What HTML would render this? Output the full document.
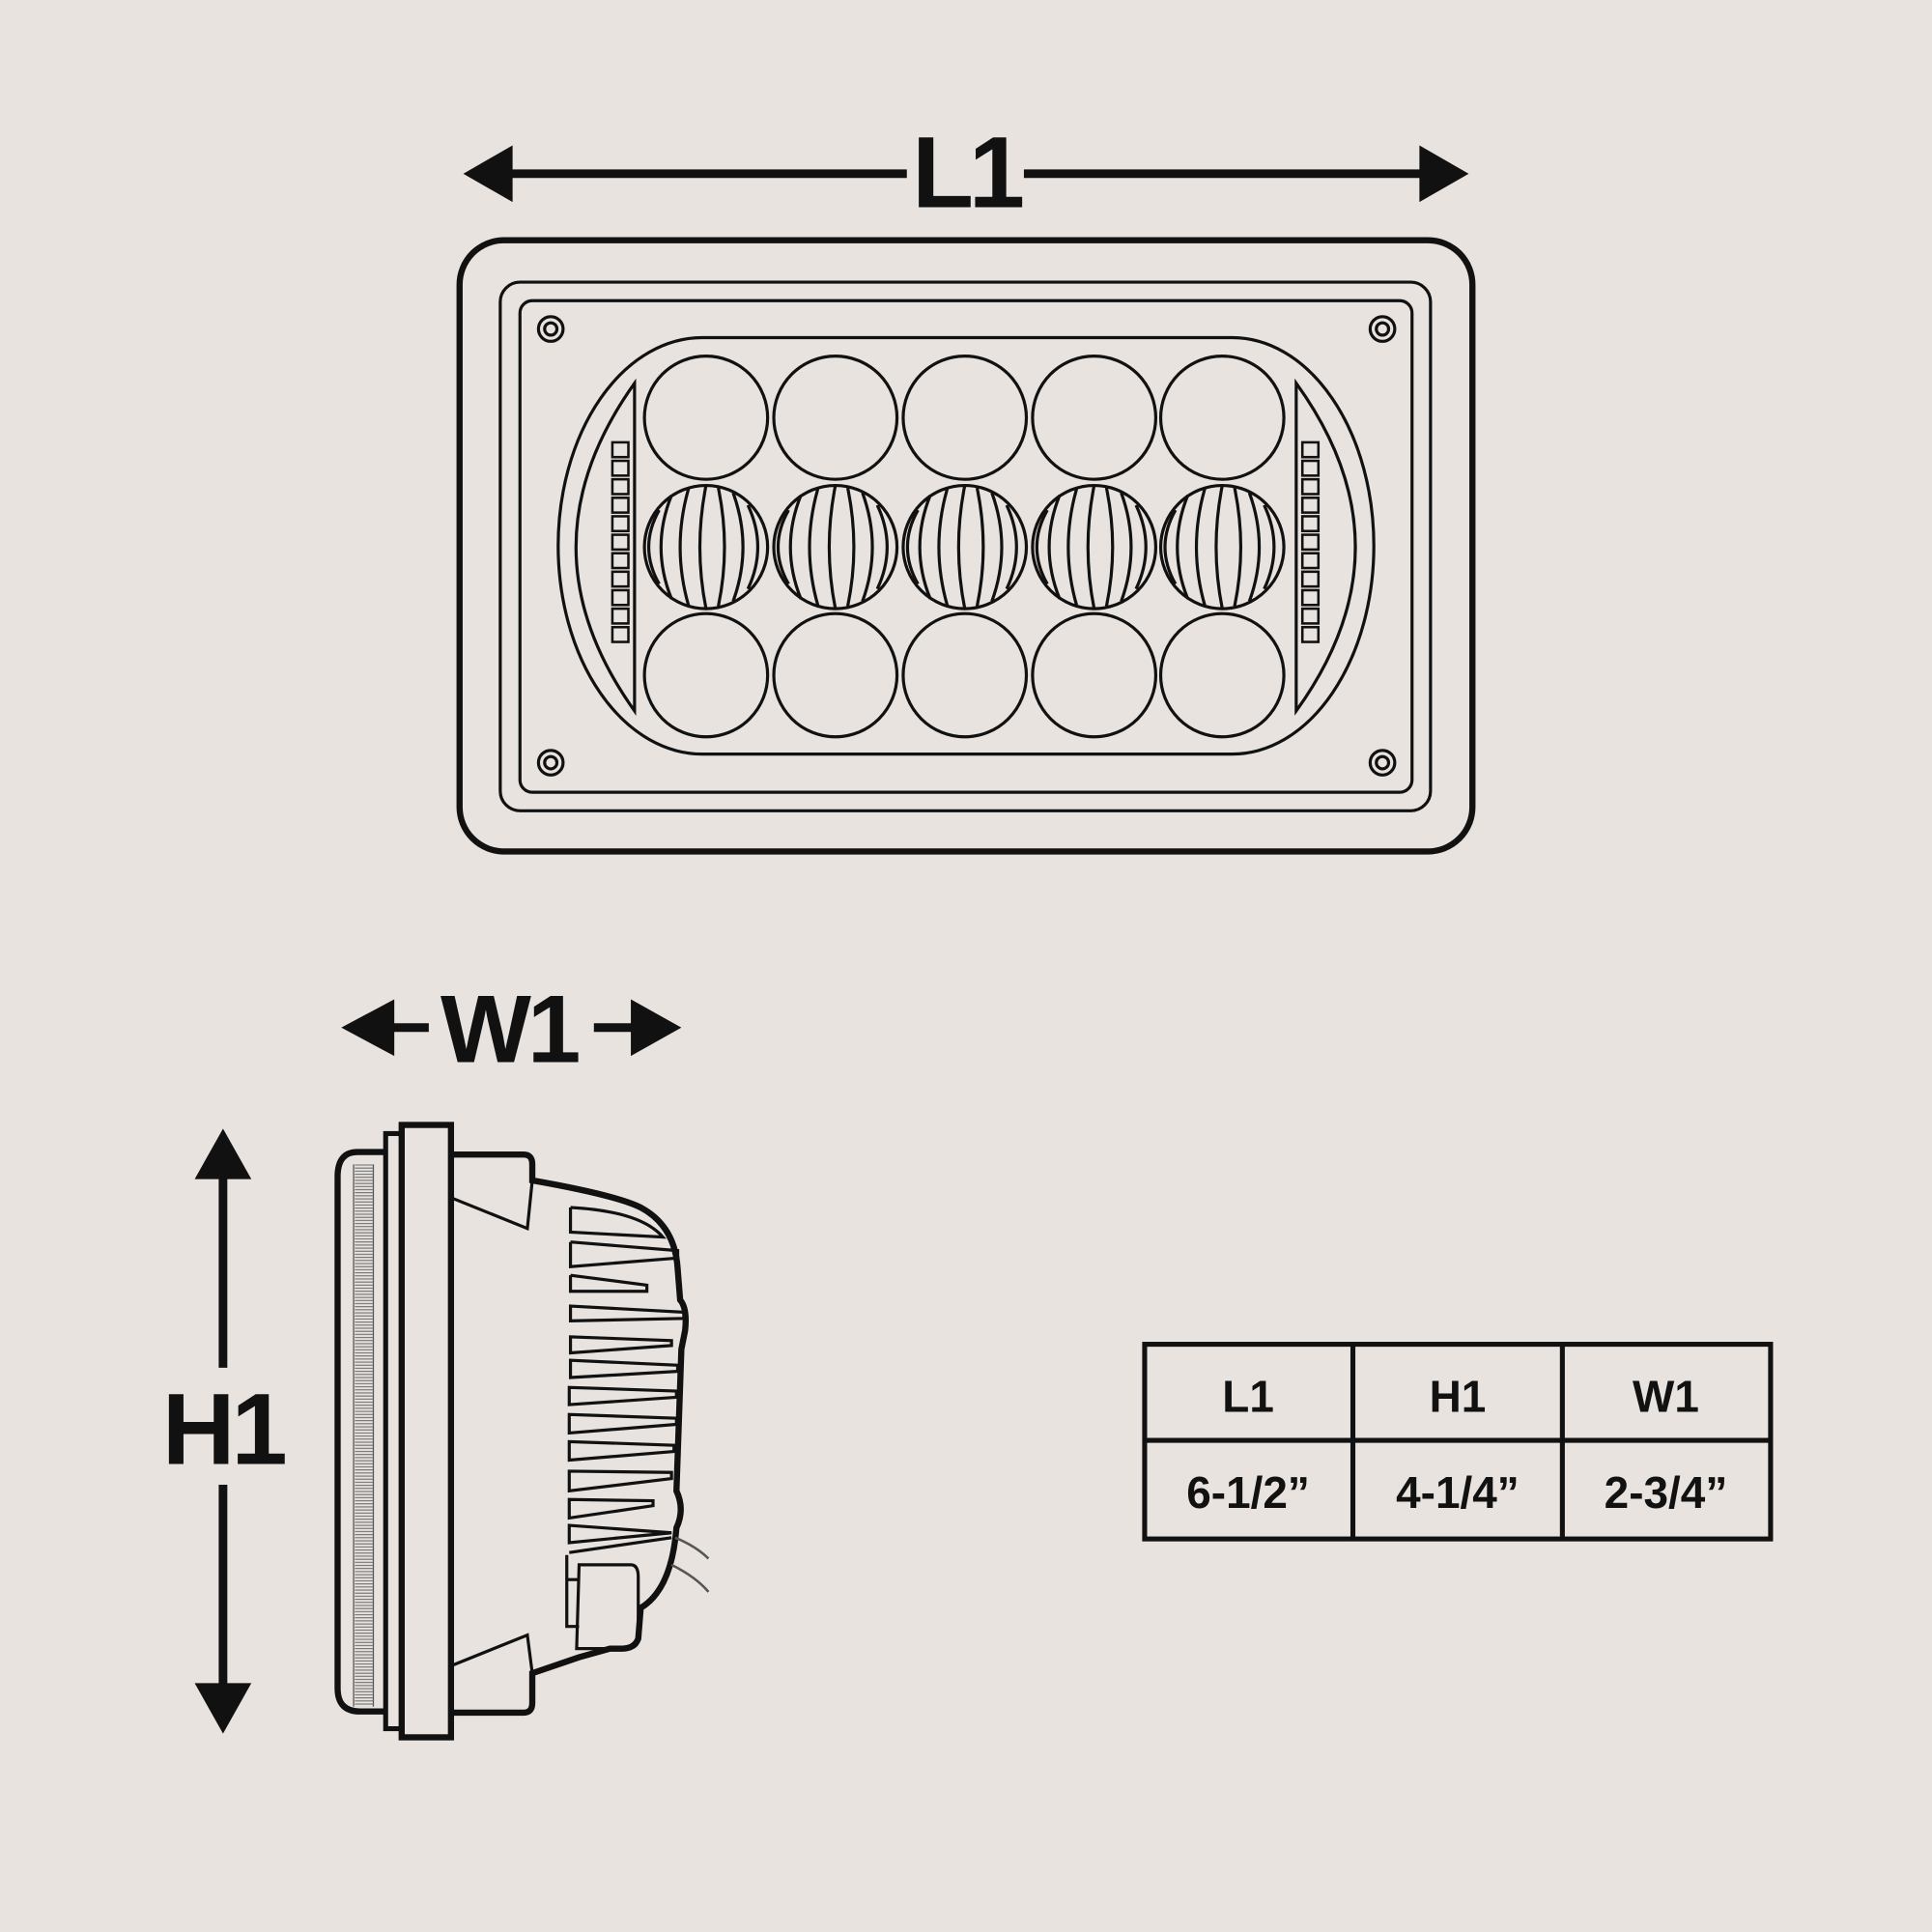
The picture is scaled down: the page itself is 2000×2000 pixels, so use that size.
<!DOCTYPE html>
<html><head><meta charset="utf-8"><style>
html,body{margin:0;padding:0;background:#e8e3df}
svg{display:block}
text{font-family:"Liberation Sans",sans-serif;font-weight:bold;fill:#111}
</style></head><body>
<svg width="2000" height="2000" viewBox="0 0 1568 1568" xmlns="http://www.w3.org/2000/svg">
<rect width="1568" height="1568" fill="#e8e3df"/>
<g stroke="#111" fill="none">
<!-- L1 arrow -->
<line x1="410" y1="141" x2="736" y2="141" stroke-width="7"/>
<line x1="831" y1="141" x2="1158" y2="141" stroke-width="7"/>
<polygon points="376,141 416,118 416,164" fill="#111" stroke="none"/>
<polygon points="1192,141 1152,118 1152,164" fill="#111" stroke="none"/>
<!-- top view -->
<rect x="373" y="195" width="822" height="496" rx="36" stroke-width="5"/>
<rect x="406" y="229" width="755" height="429" rx="16" stroke-width="2.5"/>
<rect x="422" y="244" width="724" height="399" rx="10" stroke-width="2.5"/>
<g stroke-width="2.5">
<circle cx="447" cy="267" r="10"/><circle cx="447" cy="267" r="5"/>
<circle cx="1122" cy="267" r="10"/><circle cx="1122" cy="267" r="5"/>
<circle cx="447" cy="619" r="10"/><circle cx="447" cy="619" r="5"/>
<circle cx="1122" cy="619" r="10"/><circle cx="1122" cy="619" r="5"/>
</g>
<path d="M570,274 H1000 A115,169 0 0 1 1000,612 H570 A117,169 0 0 1 570,274 Z" stroke-width="2.5"/>
<path d="M515,311 Q420,444 515,577 Z" stroke-width="2.5"/>
<path d="M1052,311 Q1148,444 1052,577 Z" stroke-width="2.5"/>
<g stroke-width="2">
<rect x="497" y="359" width="13" height="12"/><rect x="497" y="374" width="13" height="12"/><rect x="497" y="389" width="13" height="12"/><rect x="497" y="404" width="13" height="12"/><rect x="497" y="419" width="13" height="12"/><rect x="497" y="434" width="13" height="12"/><rect x="497" y="449" width="13" height="12"/><rect x="497" y="464" width="13" height="12"/><rect x="497" y="479" width="13" height="12"/><rect x="497" y="494" width="13" height="12"/><rect x="497" y="509" width="13" height="12"/>
<rect x="1057" y="359" width="13" height="12"/><rect x="1057" y="374" width="13" height="12"/><rect x="1057" y="389" width="13" height="12"/><rect x="1057" y="404" width="13" height="12"/><rect x="1057" y="419" width="13" height="12"/><rect x="1057" y="434" width="13" height="12"/><rect x="1057" y="449" width="13" height="12"/><rect x="1057" y="464" width="13" height="12"/><rect x="1057" y="479" width="13" height="12"/><rect x="1057" y="494" width="13" height="12"/><rect x="1057" y="509" width="13" height="12"/>
</g>
<g stroke-width="2.5">
<circle cx="573" cy="339" r="50"/><circle cx="678" cy="339" r="50"/><circle cx="783" cy="339" r="50"/><circle cx="888" cy="339" r="50"/><circle cx="992" cy="339" r="50"/>
<circle cx="573" cy="548" r="50"/><circle cx="678" cy="548" r="50"/><circle cx="783" cy="548" r="50"/><circle cx="888" cy="548" r="50"/><circle cx="992" cy="548" r="50"/>
</g>
<defs><g id="lens">
<circle cx="0" cy="0" r="50"/>
<path d="M-38,-30 Q-55,0 -38,30 M-28,-42 Q-45,0 -28,42 M-14,-48 Q-28,0 -14,48 M0,-50 Q-10,0 0,50 M10,-48 Q20,0 10,48 M22,-44 Q38,0 22,44 M34,-34 Q50,0 34,34"/>
</g></defs>
<g stroke-width="2.5">
<use href="#lens" x="573" y="444"/><use href="#lens" x="678" y="444"/><use href="#lens" x="783" y="444"/><use href="#lens" x="888" y="444"/><use href="#lens" x="992" y="444"/>
</g>
<!-- W1 arrow -->
<line x1="312" y1="834" x2="348" y2="834" stroke-width="7"/>
<line x1="482" y1="834" x2="520" y2="834" stroke-width="7"/>
<polygon points="277,834 320,811 320,857" fill="#111" stroke="none"/>
<polygon points="553,834 512,811 512,857" fill="#111" stroke="none"/>
<!-- H1 arrow -->
<line x1="181" y1="950" x2="181" y2="1110" stroke-width="7"/>
<line x1="181" y1="1205" x2="181" y2="1372" stroke-width="7"/>
<polygon points="181,916 158,957 204,957" fill="#111" stroke="none"/>
<polygon points="181,1407 158,1366 204,1366" fill="#111" stroke="none"/>
<!-- side view -->
<path d="M313,935 H290 Q274,935 274,955 V1370 Q274,1389 292,1389 H313" stroke-width="5"/>
<g stroke-width="1" stroke="#555">
<path d="M287,945 V1385 M303,945 V1385"/>
</g>
<rect x="288" y="945" width="15" height="440" fill="url(#hatch)" stroke="none"/>
<defs><pattern id="hatch" width="15" height="2.5" patternUnits="userSpaceOnUse"><line x1="0" y1="0.5" x2="15" y2="0.5" stroke="#666" stroke-width="0.8"/></pattern></defs>
<rect x="313" y="920" width="13" height="483" stroke-width="4"/>
<rect x="326" y="913" width="40" height="497" stroke-width="5"/>
<path d="M366,937 H425 Q432,937 432,945 V958 Q500,970 520,980 Q548,995 550,1030 L552,1055 Q558,1062 556,1080 L553,1095 L549,1210 Q556,1225 549,1240 Q545,1290 520,1305 L518,1330 Q515,1338 505,1338 H495 L470,1345 L432,1358 V1382 Q432,1390 425,1390 H366" stroke-width="5"/>
<path d="M366,972 L428,997 L432,958" stroke-width="2.5"/>
<path d="M366,1352 L428,1327 L432,1358" stroke-width="2.5"/>
<g stroke-width="2.5">
<path d="M463,980 V1000 L538,1004 Q520,983 463,980"/>
<path d="M463,1008 V1028 L550,1021 V1015 L463,1008"/>
<path d="M463,1035 V1048 L525,1048 V1043 L463,1035"/>
<path d="M463,1060 V1072 L555,1070 V1065 Z"/>
<path d="M463,1085 V1098 L545,1092 V1088 Z"/>
<path d="M463,1104 V1118 L550,1113 V1108 Z"/>
<path d="M462,1126 V1140 L549,1134 V1129 Z"/>
<path d="M462,1148 V1163 L549,1156 V1151 Z"/>
<path d="M462,1170 V1185 L547,1178 V1173 Z"/>
<path d="M462,1194 V1210 L545,1200 V1195 Z"/>
<path d="M462,1217 V1232 L530,1222 V1218 Z"/>
<path d="M462,1238 V1252 L545,1244 Z"/>
<path d="M462,1260 L545,1248 M460,1262 V1320 L470,1320"/>
<path d="M460,1282 H470"/>
<path d="M470,1270 H512 Q518,1270 518,1280 V1330 Q518,1338 508,1338 H468 Z"/>
</g>
<path d="M548,1248 Q565,1255 575,1265 M545,1270 Q565,1280 575,1292" stroke-width="2" stroke="#555"/>
<!-- table -->
<rect x="929" y="1091" width="508" height="158" stroke-width="4"/>
<line x1="929" y1="1169" x2="1437" y2="1169" stroke-width="4"/>
<line x1="1098" y1="1091" x2="1098" y2="1249" stroke-width="4"/>
<line x1="1268" y1="1091" x2="1268" y2="1249" stroke-width="4"/>
</g>
<text x="784" y="168" font-size="82" text-anchor="middle" letter-spacing="-4">L1</text>
<text x="413" y="862" font-size="78" text-anchor="middle" letter-spacing="-3">W1</text>
<text x="181" y="1188" font-size="82" text-anchor="middle" letter-spacing="-3">H1</text>
<g font-size="36" text-anchor="middle">
<text x="1013" y="1146">L1</text><text x="1183" y="1146">H1</text><text x="1352" y="1146">W1</text>
<text x="1013" y="1224">6-1/2”</text><text x="1183" y="1224">4-1/4”</text><text x="1352" y="1224">2-3/4”</text>
</g>
</svg>
</body></html>
